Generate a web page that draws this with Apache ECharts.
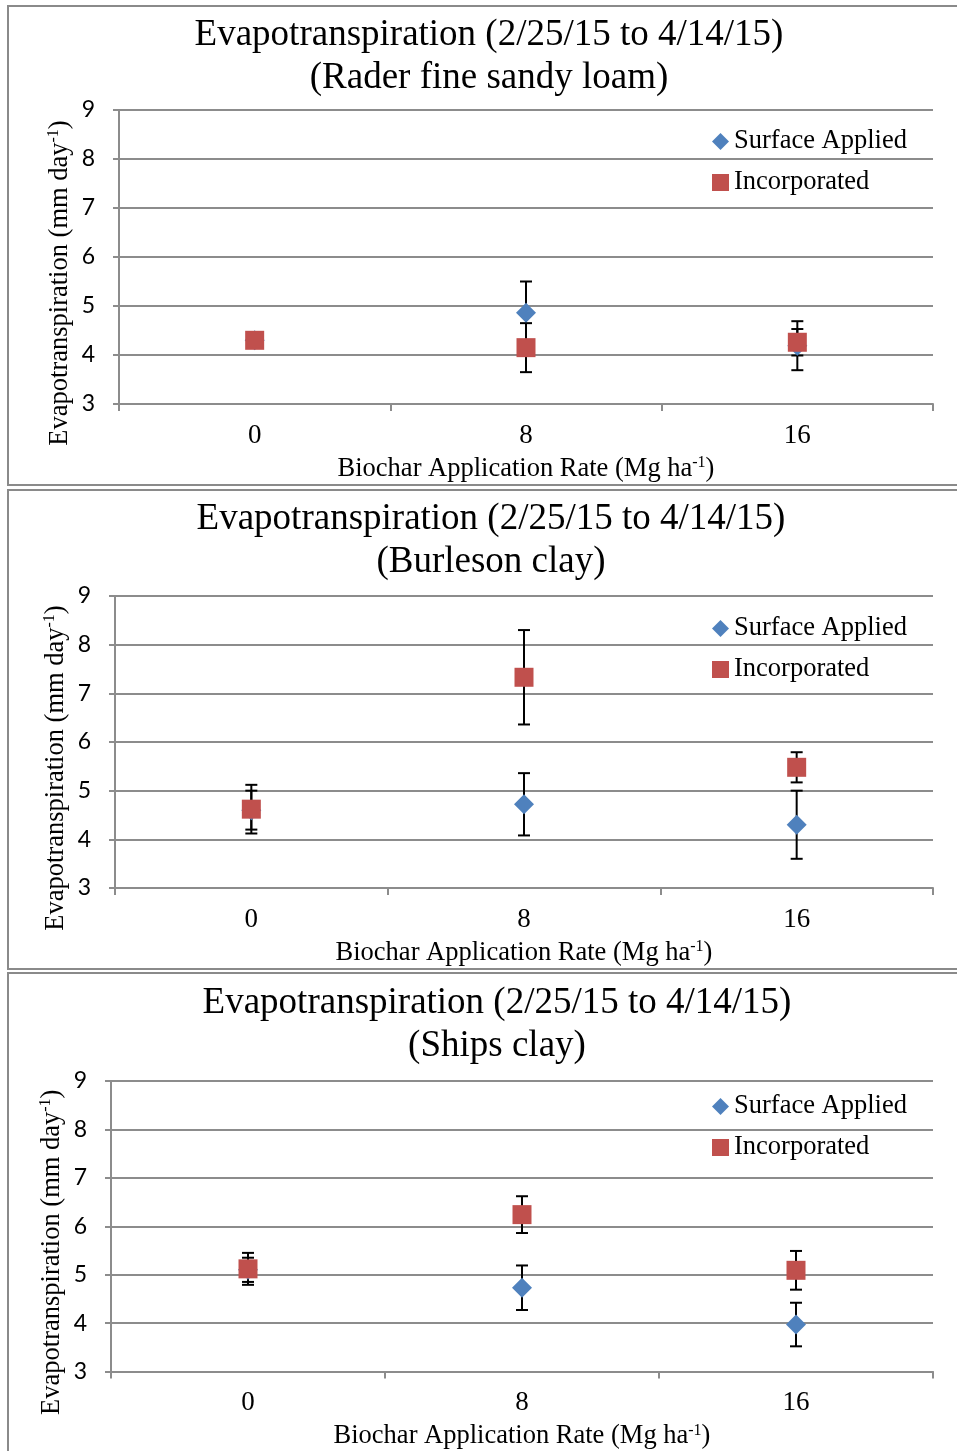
<!DOCTYPE html>
<html>
<head>
<meta charset="utf-8">
<script src="https://cdn.jsdelivr.net/npm/echarts@6/dist/echarts.min.js"></script>
<style>
  html, body { margin: 0; padding: 0; background: #fff; }
  #chart { width: 957px; height: 1451px; }
</style>
</head>
<body>
<div id="chart"></div>
<script>
// Biochar application rates (Mg ha-1)
const rates = ['0', '8', '16'];
const yTicks = { min: 3, max: 9, step: 1 };

// Soil names shown as panel subtitles
const soils = ['Rader fine sandy loam', 'Burleson clay', 'Ships clay'];

// Mean evapotranspiration (mm/day) and error (±) per rate
const raderSurface = [4.30, 4.86, 4.19];
const raderSurfaceErr = [0.08, 0.64, 0.50];
const raderIncorp = [4.30, 4.15, 4.26];
const raderIncorpErr = [0.08, 0.50, 0.27];

const burlesonSurface = [4.60, 4.72, 4.30];
const burlesonSurfaceErr = [0.40, 0.64, 0.70];
const burlesonIncorp = [4.62, 7.33, 5.48];
const burlesonIncorpErr = [0.50, 0.97, 0.31];

const shipsSurface = [5.10, 4.73, 3.97];
const shipsSurfaceErr = [0.25, 0.46, 0.45];
const shipsIncorp = [5.12, 6.24, 5.09];
const shipsIncorpErr = [0.33, 0.38, 0.40];

const panels = [
  { surface: raderSurface, surfaceErr: raderSurfaceErr, incorp: raderIncorp, incorpErr: raderIncorpErr },
  { surface: burlesonSurface, surfaceErr: burlesonSurfaceErr, incorp: burlesonIncorp, incorpErr: burlesonIncorpErr },
  { surface: shipsSurface, surfaceErr: shipsSurfaceErr, incorp: shipsIncorp, incorpErr: shipsIncorpErr }
];

// Layout of each panel (pixels)
const layout = [
  { box: 6,   grid: { left: 119, top: 110,  width: 814, height: 294 }, titleX: 489, titleY: 14,  legendY: 128 },
  { box: 490, grid: { left: 115, top: 596,  width: 818, height: 292 }, titleX: 491, titleY: 498, legendY: 615 },
  { box: 973, grid: { left: 111, top: 1081, width: 822, height: 291 }, titleX: 497, titleY: 982, legendY: 1093 }
];

const SERIF = "'Liberation Serif', 'Times New Roman', serif";
const SANS = "Lato, 'Open Sans', sans-serif";
const BLUE = '#4F81BD';
const RED = '#C0504D';
const GRID_GRAY = '#8c8c8c';

const supRich = {
  t: { fontFamily: SERIF, fontSize: 26.5, color: '#000', lineHeight: 28 },
  s: { fontFamily: SERIF, fontSize: 16, color: '#000', verticalAlign: 'top', lineHeight: 28, padding: [0, 0, 9, 0] }
};

function errorData(means, errs) {
  return means.map((m, i) => [i, m - errs[i], m + errs[i]]);
}

function renderErrorBar(params, api) {
  const x = api.value(0);
  const top = api.coord([x, api.value(2)]);
  const bot = api.coord([x, api.value(1)]);
  const hw = 6;
  const style = { stroke: '#000', lineWidth: 2 };
  return {
    type: 'group',
    children: [
      { type: 'line', shape: { x1: top[0], y1: top[1], x2: bot[0], y2: bot[1] }, style },
      { type: 'line', shape: { x1: top[0] - hw, y1: top[1], x2: top[0] + hw, y2: top[1] }, style },
      { type: 'line', shape: { x1: bot[0] - hw, y1: bot[1], x2: bot[0] + hw, y2: bot[1] }, style }
    ]
  };
}

const option = {
  backgroundColor: '#fff',
  animation: false,
  title: [], legend: [], grid: [], xAxis: [], yAxis: [], series: [],
  graphic: []
};

layout.forEach((L, i) => {
  const P = panels[i];

  option.graphic.push({
    type: 'rect', z: 0, silent: true,
    shape: { x: 8, y: L.box, width: 960, height: 479 },
    style: { fill: 'none', stroke: '#8a8a8a', lineWidth: 2 }
  });

  option.title.push({
    text: 'Evapotranspiration (2/25/15 to 4/14/15)\n(' + soils[i] + ')',
    left: L.titleX, top: L.titleY, textAlign: 'center', padding: 0,
    textStyle: { fontFamily: SERIF, fontSize: 37, fontWeight: 'normal', color: '#000', lineHeight: 43 }
  });

  option.legend.push({
    orient: 'vertical', left: 712, top: L.legendY, padding: 0,
    itemWidth: 17, itemHeight: 17, itemGap: 14,
    textStyle: { fontFamily: SERIF, fontSize: 26.5, color: '#000', lineHeight: 27 },
    data: [
      { name: 'Surface Applied', icon: 'diamond' },
      { name: 'Incorporated', icon: 'rect' }
    ]
  });

  option.grid.push(Object.assign({ containLabel: false }, L.grid));

  option.xAxis.push({
    type: 'category', gridIndex: i, data: rates, boundaryGap: true,
    axisLine: { lineStyle: { color: GRID_GRAY, width: 2 } },
    axisTick: { show: true, length: 7, inside: false, lineStyle: { color: GRID_GRAY, width: 2 } },
    axisLabel: { fontFamily: SERIF, fontSize: 27, color: '#000', margin: 18 },
    splitLine: { show: false },
    name: '{t|Biochar Application Rate (Mg ha}{s|-1}{t|)}',
    nameLocation: 'middle', nameGap: 51, nameMoveOverlap: false,
    nameTextStyle: { rich: supRich }
  });

  option.yAxis.push({
    type: 'value', gridIndex: i, min: yTicks.min, max: yTicks.max, interval: yTicks.step,
    axisLine: { show: true, lineStyle: { color: GRID_GRAY, width: 2 } },
    axisTick: { show: true, length: 6, lineStyle: { color: GRID_GRAY, width: 2 } },
    axisLabel: { fontFamily: SANS, fontSize: 23, color: '#000', margin: 24 },
    splitLine: { show: true, lineStyle: { color: GRID_GRAY, width: 2 } },
    name: '{t|Evapotranspiration (mm day}{s|-1}{t|)}',
    nameLocation: 'middle', nameGap: 45, nameRotate: 90, nameMoveOverlap: false,
    nameTextStyle: { rich: supRich, padding: [0, 52, 0, 0] }
  });

  option.series.push(
    {
      type: 'custom', name: 'Surface Applied', xAxisIndex: i, yAxisIndex: i, z: 2,
      renderItem: renderErrorBar, encode: { x: 0, y: [1, 2] },
      data: errorData(P.surface, P.surfaceErr), itemStyle: { color: BLUE }
    },
    {
      type: 'custom', name: 'Incorporated', xAxisIndex: i, yAxisIndex: i, z: 2,
      renderItem: renderErrorBar, encode: { x: 0, y: [1, 2] },
      data: errorData(P.incorp, P.incorpErr), itemStyle: { color: RED }
    },
    {
      type: 'scatter', name: 'Surface Applied', xAxisIndex: i, yAxisIndex: i, z: 3,
      symbol: 'diamond', symbolSize: 20,
      itemStyle: { color: BLUE, opacity: 1 },
      data: P.surface
    },
    {
      type: 'scatter', name: 'Incorporated', xAxisIndex: i, yAxisIndex: i, z: 4,
      symbol: 'rect', symbolSize: 19,
      itemStyle: { color: RED, opacity: 1 },
      data: P.incorp
    }
  );
});

const chart = echarts.init(document.getElementById('chart'), null, { renderer: 'canvas' });
chart.setOption(option);
</script>
</body>
</html>
